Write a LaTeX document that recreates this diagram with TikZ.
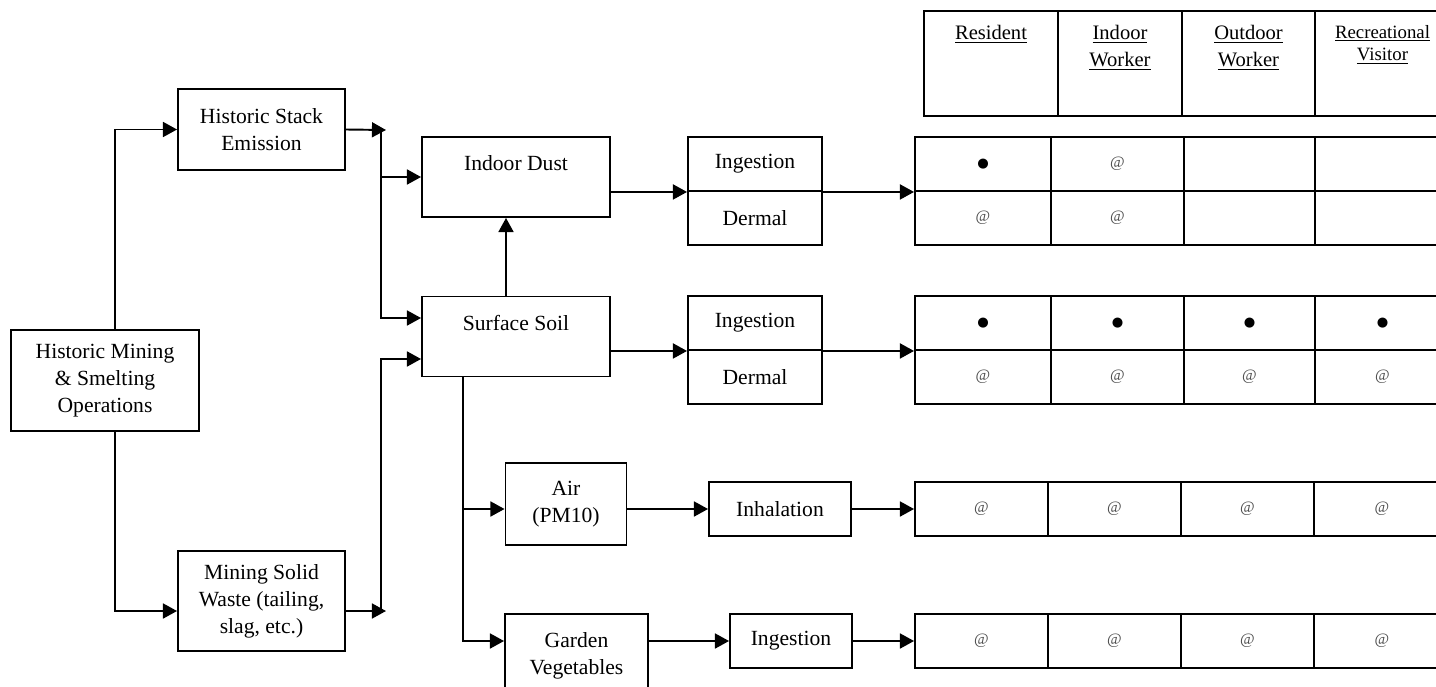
\documentclass[tikz,border=0pt]{standalone}
\usepackage{fontspec}
\setmainfont{Liberation Serif}
\newfontfamily\symfont{DejaVu Sans}
\usepackage{tikz}
\usetikzlibrary{arrows.meta, positioning}
\tikzset{>={Triangle[length=8pt,width=8.5pt]}}
\tikzset{sz/.style 2 args={minimum width=#1*0.02cm, minimum height=#2*0.02cm}}
% marks in the receptor table
\newcommand{\fullexp}{{\symfont\fontsize{7.5}{8}\selectfont ●}}
\newcommand{\partexp}{{\color{black!70}\fontsize{9}{9}\selectfont @}}
\newcommand{\hd}[1]{\parbox[c][2.1cm][t]{2.2cm}{\centering\vspace*{8pt}#1}}

\begin{document}
\begin{tikzpicture}[x=0.02cm, y=-0.02cm, line width=1.1pt,
    box/.style = {draw, align=center, inner sep=1pt, font=\fontsize{12.3}{15.4}\selectfont},
    cell/.style = {draw, inner sep=0pt},
    hcell/.style = {draw, inner sep=0pt, font=\fontsize{11.7}{15.4}\selectfont}]
    \useasboundingbox (0,0) rectangle (1436,686);
    \clip (0,0) rectangle (1436,686);

    % sources
    \node (hm) [box, sz={188}{101}] at (105,380.5) {Historic Mining\\\& Smelting\\Operations};
    \node (hse) [box, sz={167}{81}] at (261.5,129.5) {Historic Stack\\Emission};
    \node (msw) [box, sz={167}{100}] at (261.5,601) {Mining Solid\\Waste (tailing,\\slag, etc.)};

    % media
    \node (dust) [box, sz={188}{80}] at (516,177) {Indoor Dust\\\mbox{}};
    \node (soil) [box, sz={188}{80}] at (516,336.5) {Surface Soil\\\mbox{}};
    \node (air) [box, sz={121}{82}] at (566,504) {Air\\(PM10)};
    \node (veg) [box, sz={143}{83}] at (576.5,655.5) {Garden\\Vegetables};

    % routes
    \node (ing1) [box, sz={134}{54}] at (755,164) {Ingestion};
    \node (der1) [box, sz={134}{54}] at (755,218) {Dermal};
    \node (ing2) [box, sz={134}{54}] at (755,323) {Ingestion};
    \node (der2) [box, sz={134}{54}] at (755,377) {Dermal};
    \node (inh) [box, sz={142}{54}] at (780,509) {Inhalation};
    \node (ing3) [box, sz={122}{54}] at (791,641) {Ingestion};

    % receptors
    \foreach \x/\w/\t [count=\i] in {991/134/{\underline{Resident}},
        1120/124/{\underline{Indoor}\\\underline{Worker}},
        1248.5/133/{\underline{Outdoor}\\\underline{Worker}},
        1382.5/135/{\fontsize{10.7}{13}\selectfont\underline{Recreational}\\\underline{Visitor}}}
        \node (rec\i) [hcell, sz={\w}{105}] at (\x,63.5) {\hd{\t}};

    \foreach \x/\w/\a/\b [count=\i] in {983/136/\fullexp/\partexp, 1117.5/133/\partexp/\partexp,
        1249.5/131/{}/{}, 1382.5/135/{}/{}} {
        \node (da\i) [cell, sz={\w}{54}] at (\x,164) {\a};
        \node (db\i) [cell, sz={\w}{54}] at (\x,218) {\b};
        }
    \foreach \x/\w [count=\i] in {983/136, 1117.5/133, 1249.5/131, 1382.5/135} {
        \node (sa\i) [cell, sz={\w}{54}] at (\x,323) {\fullexp};
        \node (sb\i) [cell, sz={\w}{54}] at (\x,377) {\partexp};
        }
    \foreach \x/\w [count=\i] in {981.5/133, 1114.5/133, 1247.5/133, 1382/136} {
        \node (aa\i) [cell, sz={\w}{54}] at (\x,509) {\partexp};
        \node (va\i) [cell, sz={\w}{54}] at (\x,641) {\partexp};
        }

    % connectors
    \coordinate (hmj) at (115,130);
    \coordinate (t1) at (386,130);
    \coordinate (t2) at (386,611);
    \coordinate (b1) at (381,130);
    \coordinate (b2) at (381,611);
    \coordinate (bs) at (463,0);
    \draw[->] (hm.north -| hmj) |- (hse.west);
    \draw[->] (hm.south -| hmj) |- ([yshift=-0.2cm]msw.west);
    \draw[->] (hse.east) -- (t1);
    \draw[->] ([yshift=-0.2cm]msw.east) -- (t2);
    \draw[->] (b1) |- (dust.west);
    \draw[->] (b1) |- ([yshift=0.37cm]soil.west);
    \draw[->] (b2) |- ([yshift=-0.45cm]soil.west);
    \draw[->] ([xshift=-0.2cm]soil.north) -- ([xshift=-0.2cm]dust.south);
    \draw[->] (dust.east |- ing1.south) -- (ing1.south west);
    \draw[->] (soil.east |- ing2.south) -- (ing2.south west);
    \draw[->] (ing1.south east) -- (da1.south west);
    \draw[->] (ing2.south east) -- (sa1.south west);
    \draw[->] (soil.south -| bs) |- (veg.west |- ing3.west);
    \draw[->] (bs |- inh.west) -- (air.west |- inh.west);
    \draw[->] (air.east |- inh.west) -- (inh.west);
    \draw[->] (veg.east |- ing3.west) -- (ing3.west);
    \draw[->] (inh.east) -- (aa1.west);
    \draw[->] (ing3.east) -- (va1.west);
\end{tikzpicture}
\end{document}
